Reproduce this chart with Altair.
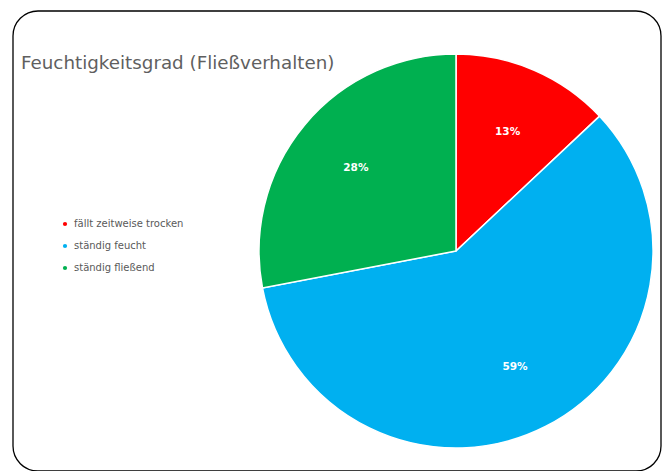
import altair as alt
import pandas as pd

categories = ["fällt zeitweise trocken", "ständig feucht", "ständig fließend"]
shares = [13, 59, 28]
labels = ["13%", "59%", "28%"]
colors = ["#FF0000", "#00B0F0", "#00B050"]
title_text = "Feuchtigkeitsgrad (Fließverhalten)"

df = pd.DataFrame({
    "kategorie": categories,
    "anteil": shares,
    "label": labels,
    "idx": list(range(len(categories))),
})

W, H = 663, 471
CX, CY, R = 456, 251, 197

base = alt.Chart(df).encode(
    theta=alt.Theta("anteil:Q", stack=True),
    order=alt.Order("idx:O"),
)

pie = base.mark_arc(radius=R, stroke="white", strokeWidth=1.5).encode(
    x=alt.value(CX),
    y=alt.value(CY),
    color=alt.Color(
        "kategorie:N",
        scale=alt.Scale(domain=categories, range=colors),
        legend=alt.Legend(
            title=None,
            orient="none",
            legendX=60,
            legendY=219,
            symbolType="circle",
            symbolSize=18,
            symbolStrokeWidth=0,
            labelFont="DejaVu Sans",
            labelFontSize=10,
            labelColor="#595959",
            rowPadding=12,
            labelOffset=4,
            padding=0,
        ),
    ),
)

text = base.mark_text(
    radius=130, font="DejaVu Sans", fontSize=10.5, fontWeight="bold", fill="white"
).encode(
    x=alt.value(CX),
    y=alt.value(CY),
    text="label:N",
)

title = alt.Chart(pd.DataFrame({"t": [title_text]})).mark_text(
    align="left", baseline="alphabetic", font="DejaVu Sans", fontSize=18.3, fill="#5f5f5f"
).encode(x=alt.value(21), y=alt.value(69), text="t:N")

frame = alt.Chart(pd.DataFrame({"a": [0]})).mark_rect(
    cornerRadius=25, fillOpacity=0, fill="white", stroke="black", strokeWidth=1.3
).encode(x=alt.value(13), x2=alt.value(661), y=alt.value(11), y2=alt.value(471))

chart = alt.layer(pie, text, title, frame).properties(
    width=W, height=H, padding=0, autosize=alt.AutoSizeParams(type="none")
).configure_view(stroke=None)

chart.save("out.html", embed_options={"renderer": "svg", "actions": False})
